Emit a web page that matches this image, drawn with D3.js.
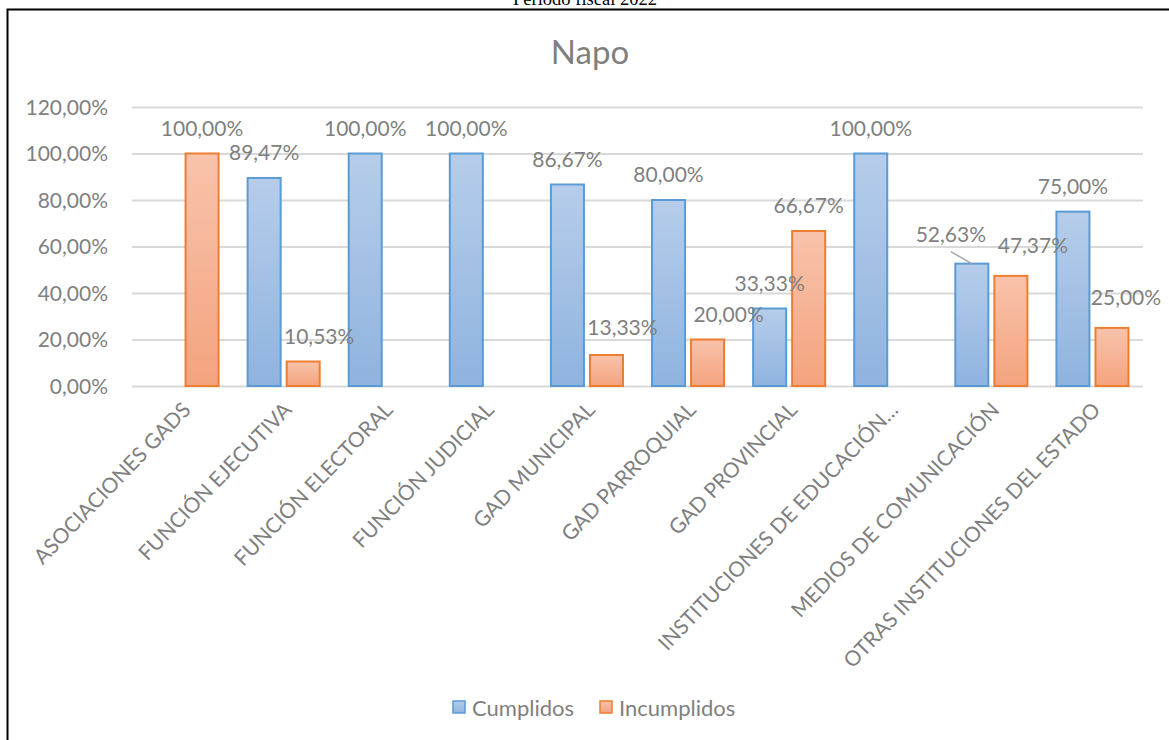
<!DOCTYPE html>
<html>
<head>
<meta charset="utf-8">
<script src="https://cdn.jsdelivr.net/npm/d3@7"></script>
<style>
  body { margin: 0; background: #fff; }
  svg text { font-family: Lato, "Open Sans", sans-serif; }
</style>
</head>
<body>
<div id="chart"></div>
<script>
var categories = ["ASOCIACIONES GADS", "FUNCIÓN EJECUTIVA", "FUNCIÓN ELECTORAL", "FUNCIÓN JUDICIAL",
    "GAD MUNICIPAL", "GAD PARROQUIAL", "GAD PROVINCIAL", "INSTITUCIONES DE EDUCACIÓN…",
    "MEDIOS DE COMUNICACIÓN", "OTRAS INSTITUCIONES DEL ESTADO"];
var seriesNames = ["Cumplidos", "Incumplidos"];
var cumplidos = [null, 0.8947, 1, 1, 0.8667, 0.8, 0.3333, 1, 0.5263, 0.75];
var incumplidos = [1, 0.1053, null, null, 0.1333, 0.2, 0.6667, null, 0.4737, 0.25];
var yTicks = [0, 0.2, 0.4, 0.6, 0.8, 1.0, 1.2];

// label nudges (px) for the labels that were moved by hand in the original
var nudges = {
    "1-1": [16, 0], "4-1": [16, -2], "5-1": [21, 0],
    "8-0": [-21, -4], "8-1": [22, -5], "9-1": [14, -5]
};

window.onload = function () {
    drawChart();
}

function drawChart() {
    var width = 1169, height = 740;
    var left = 132, right = 1143, top = 107, bottom = 386;
    var grey = "#7f7f7f";
    var locale = d3.formatLocale({ decimal: ",", thousands: ".", grouping: [3], currency: ["$", ""] });
    var pct = locale.format(".2%");

    var svg = d3.select("#chart").append("svg")
        .attr("width", width)
        .attr("height", height);

    var defs = svg.append("defs");
    var fills = [["#b6cdea", "#8fb3df"], ["#f8c3ab", "#f4a37e"]];
    var strokes = ["#5b9bd5", "#ed7d31"];
    fills.forEach(function (f, i) {
        var g = defs.append("linearGradient")
            .attr("id", "grad" + i)
            .attr("x1", 0).attr("y1", 0).attr("x2", 0).attr("y2", 1);
        g.append("stop").attr("offset", "0%").attr("stop-color", f[0]);
        g.append("stop").attr("offset", "100%").attr("stop-color", f[1]);
    });

    // page header (cut by the page edge, as in the source) and frame
    svg.append("text")
        .attr("x", 585).attr("y", 5)
        .attr("text-anchor", "middle")
        .style("font-family", "'Liberation Serif', 'Times New Roman', serif")
        .style("font-size", "18.5px")
        .attr("fill", "#000")
        .text("Periodo fiscal 2022");
    svg.append("rect")
        .attr("x", 7.5).attr("y", 9.5)
        .attr("width", 1200).attr("height", 800)
        .attr("fill", "none")
        .attr("stroke", "#000")
        .attr("stroke-width", 2);

    svg.append("text")
        .attr("x", 590).attr("y", 64)
        .attr("text-anchor", "middle")
        .attr("fill", grey)
        .style("font-size", "33px")
        .text("Napo");

    var x0 = d3.scaleBand()
        .domain(d3.range(categories.length))
        .range([left, right])
        .paddingInner(0.287)
        .paddingOuter(0.1435);
    var x1 = d3.scaleBand()
        .domain([0, 1])
        .range([0, x0.bandwidth()])
        .paddingInner(0.154);
    var y = d3.scaleLinear()
        .domain([0, 1.2])
        .range([bottom, top]);

    var yAxis = svg.append("g")
        .attr("transform", "translate(" + left + ",0)")
        .call(d3.axisLeft(y).tickValues(yTicks).tickFormat(pct).tickSize(-(right - left)).tickPadding(24));
    yAxis.select(".domain").remove();
    yAxis.selectAll(".tick line").attr("stroke", "#d9d9d9").attr("stroke-width", 2);
    yAxis.selectAll(".tick text")
        .attr("fill", grey)
        .style("font-size", "21px")
        .attr("dy", "0.35em");

    var data = [];
    categories.forEach(function (c, i) {
        [cumplidos[i], incumplidos[i]].forEach(function (v, s) {
            if (v != null) data.push({ cat: i, s: s, value: v });
        });
    });

    svg.append("g").selectAll("rect")
        .data(data)
        .enter()
        .append("rect")
        .attr("x", function (d) { return x0(d.cat) + x1(d.s); })
        .attr("y", function (d) { return y(d.value); })
        .attr("width", x1.bandwidth())
        .attr("height", function (d) { return y(0) - y(d.value); })
        .attr("fill", function (d) { return "url(#grad" + d.s + ")"; })
        .attr("stroke", function (d) { return strokes[d.s]; })
        .attr("stroke-width", 2);

    function labelPos(d) {
        var n = nudges[d.cat + "-" + d.s] || [0, 0];
        return [x0(d.cat) + x1(d.s) + x1.bandwidth() / 2 + n[0], y(d.value) - 25 + n[1]];
    }

    // leader line for the moved label on MEDIOS DE COMUNICACIÓN
    var medios = data.filter(function (d) { return d.cat == 8 && d.s == 0; })[0];
    var mp = labelPos(medios);
    svg.append("line")
        .attr("x1", mp[0]).attr("y1", mp[1] + 17)
        .attr("x2", x0(8) + x1(0) + x1.bandwidth() / 2).attr("y2", y(medios.value))
        .attr("stroke", "#a6a6a6")
        .attr("stroke-width", 1.5);

    svg.append("g").selectAll("text")
        .data(data)
        .enter()
        .append("text")
        .attr("x", function (d) { return labelPos(d)[0]; })
        .attr("y", function (d) { return labelPos(d)[1]; })
        .attr("dy", "0.35em")
        .attr("text-anchor", "middle")
        .attr("fill", grey)
        .style("font-size", "21px")
        .text(function (d) { return pct(d.value); });

    svg.append("g").selectAll("text")
        .data(categories)
        .enter()
        .append("text")
        .attr("transform", function (d, i) {
            return "translate(" + (x0(i) + x0.bandwidth() / 2 + 4) + "," + (bottom + 20) + ") rotate(-46)";
        })
        .attr("text-anchor", "end")
        .attr("dy", "0.35em")
        .attr("fill", grey)
        .style("font-size", "21px")
        .text(function (d) { return d; });

    // legend
    var legend = svg.append("g").attr("transform", "translate(452,700)");
    var lx = [0, 147];
    seriesNames.forEach(function (name, i) {
        legend.append("rect")
            .attr("x", lx[i] + 1).attr("y", 1)
            .attr("width", 12).attr("height", 12)
            .attr("fill", "url(#grad" + i + ")")
            .attr("stroke", strokes[i])
            .attr("stroke-width", 1.5);
        legend.append("text")
            .attr("x", lx[i] + 20).attr("y", 16)
            .attr("fill", grey)
            .style("font-size", "22px")
            .text(name);
    });
}
</script>
</body>
</html>
